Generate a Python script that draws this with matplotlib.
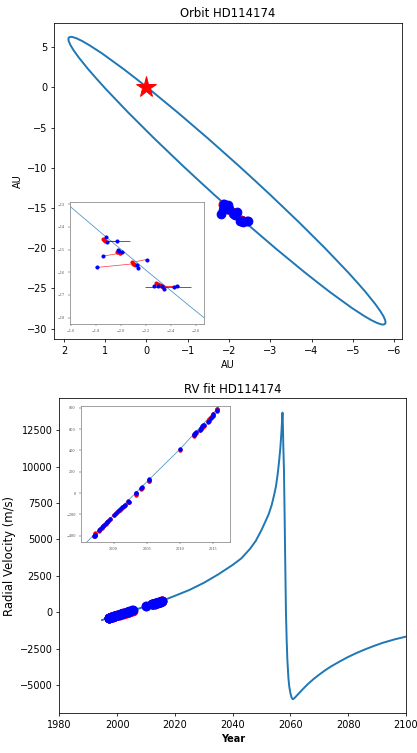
import math
import matplotlib
matplotlib.use('Agg')
import matplotlib.pyplot as plt
from matplotlib.patches import Ellipse
from matplotlib.transforms import Affine2D

# ---------------- data ----------------
# fitted orbit: ellipse centre, half-extent in x (horizontal chord), half-extent in y,
# and shear of the chord-midpoint line (dx/dy)
orbit_x0 = -1.95
orbit_y0 = -11.6
orbit_half_w = 0.68
orbit_half_h = 17.9
orbit_shear = 0.2112

star_x = [0.0]
star_y = [0.0]

# astrometric epochs: observed (blue) and model (red) positions
obs_x = [-1.878, -1.889, -1.967, -1.975, -1.982, -2.010, -1.854, -2.205, -1.804,
         -2.130, -2.138, -2.267, -2.299, -2.331, -2.347, -2.427, -2.454]
obs_y = [-14.47, -14.65, -14.64, -15.03, -15.07, -15.10, -15.29, -15.44, -15.79,
         -15.70, -15.83, -16.60, -16.61, -16.60, -16.73, -16.63, -16.60]
obs_xerr_lo = [0.01, 0.01, 0.102, 0.01, 0.01, 0.01, 0.01, 0.01, 0.01,
               0.01, 0.01, 0.01, 0.01, 0.01, 0.01, 0.134, 0.01]
obs_xerr_hi = [0.01, 0.01, 0.081, 0.01, 0.01, 0.01, 0.01, 0.01, 0.01,
               0.01, 0.01, 0.01, 0.01, 0.01, 0.01, 0.235, 0.01]
mod_x = [-1.853, -1.860, -1.870, -1.965, -1.975, -1.990, -1.988, -2.085, -2.100,
         -2.108, -2.115, -2.280, -2.295, -2.310, -2.335, -2.325, -2.340]
mod_y = [-14.55, -14.59, -14.63, -15.09, -15.12, -15.16, -15.17, -15.57, -15.63,
         -15.66, -15.70, -16.49, -16.53, -16.57, -16.65, -16.62, -16.66]

# fitted radial-velocity curve
rv_fit_year = [1994.8, 2000.0, 2005.0, 2010.0, 2015.5, 2020.0, 2025.0, 2030.0,
               2035.0, 2040.0, 2043.0, 2046.0, 2048.0, 2050.0, 2051.5, 2052.5,
               2053.5, 2054.3, 2055.0, 2055.6, 2056.1, 2056.5, 2056.85, 2057.1,
               2057.25, 2057.4, 2057.55, 2057.75, 2058.0, 2058.2, 2058.45, 2058.7,
               2058.95, 2059.3, 2059.6, 2060.0, 2060.4, 2060.8, 2061.2, 2061.8,
               2062.5, 2063.3, 2064.5, 2066.0, 2068.0, 2070.0, 2072.0, 2074.0,
               2077.0, 2080.0, 2083.0, 2086.0, 2089.0, 2092.0, 2096.0, 2100.0]
rv_fit_val = [-530, -205, 105, 410, 780, 1130, 1530, 2020,
              2600, 3250, 3700, 4350, 4900, 5650, 6300, 6750,
              7350, 8000, 8650, 9500, 10400, 11250, 12250, 13150,
              13700, 12800, 11300, 9900, 6500, 3500, 0, -1900,
              -3300, -4500, -5100, -5550, -5850, -5963, -5920, -5800,
              -5650, -5480, -5230, -4930, -4580, -4270, -3980, -3720,
              -3380, -3060, -2780, -2530, -2300, -2090, -1860, -1668]

# radial-velocity measurements (blue) and model values at those epochs (red)
rv_year = [1997.05, 1997.10, 1997.15, 1997.20, 1997.85, 1998.00, 1998.20, 1998.40,
           1998.60, 1998.80, 1999.00, 1999.20, 1999.45, 2000.00, 2000.30, 2000.60,
           2000.90, 2001.20, 2001.50, 2001.70, 2002.20, 2002.25, 2003.30, 2003.35,
           2004.20, 2004.25, 2005.30, 2005.35, 2010.10, 2012.10, 2012.20, 2012.30,
           2012.40, 2013.10, 2013.20, 2013.30, 2013.50, 2013.60, 2014.20, 2014.40,
           2014.70, 2015.00, 2015.10, 2015.60, 2015.65]
rv_obs = [-405, -395, -390, -400, -345, -335, -320, -305,
          -295, -280, -270, -258, -245, -205, -185, -170,
          -150, -135, -120, -110, -72, -80, -2, 5,
          50, 58, 125, 135, 413, 540, 555, 565,
          570, 595, 610, 625, 635, 640, 665, 680,
          700, 720, 740, 765, 780]
rv_mod = [-398, -392, -378, -388, -352, -338, -325, -312,
          -300, -287, -275, -262, -247, -210, -190, -172,
          -156, -138, -124, -112, -80, -88, -14, -8,
          40, 44, 110, 114, 405, 538, 545, 552,
          560, 592, 600, 610, 625, 632, 678, 690,
          710, 728, 745, 785, 792]


def orbit_patch(ax, **kw):
    e = Ellipse((0, 0), 2 * orbit_half_w, 2 * orbit_half_h, fill=False, **kw)
    tr = (Affine2D().skew(math.atan(orbit_shear), 0)
          .translate(orbit_x0, orbit_y0) + ax.transData)
    e.set_transform(tr)
    ax.add_patch(e)


# ---------------- figure ----------------
fig = plt.figure(figsize=(417 / 70, 753 / 70), dpi=70)

# ---- orbit panel ----
ax1 = fig.add_axes([0.1295, 0.5498, 0.8345, 0.4197])
orbit_patch(ax1, ec='C0', lw=2, zorder=2)
ax1.plot(mod_x, mod_y, 'o', color='red', ms=9, zorder=3)
ax1.plot(obs_x, obs_y, 'o', color='blue', ms=9, zorder=4)
ax1.plot(star_x, star_y, '*', color='red', ms=22, zorder=5)
ax1.set_xlim(2.24, -6.19)
ax1.set_ylim(-31.3, 8.03)
ax1.set_xticks([2, 1, 0, -1, -2, -3, -4, -5, -6])
ax1.set_yticks([5, 0, -5, -10, -15, -20, -25, -30])
ax1.set_title('Orbit HD114174')
ax1.set_xlabel('AU')
ax1.set_ylabel('AU')

# inset orbit zoom
ins1 = fig.add_axes([0.1679, 0.5697, 0.3213, 0.1620])
orbit_patch(ins1, ec='C0', lw=0.8, alpha=0.8, zorder=2)
for xo, yo, xm, ym in zip(obs_x, obs_y, mod_x, mod_y):
    ins1.plot([xo, xm], [yo, ym], '-', color='red', lw=0.7, alpha=0.8, zorder=3)
ins1.errorbar(obs_x, obs_y, xerr=[obs_xerr_lo, obs_xerr_hi], fmt='none',
              ecolor='blue', elinewidth=0.7, zorder=3)
ins1.plot(mod_x, mod_y, 'o', color='red', ms=3.2, zorder=4)
ins1.plot(obs_x, obs_y, 'o', color='blue', ms=3.2, zorder=5)
ins1.set_xlim(-1.59, -2.667)
ins1.set_ylim(-18.28, -12.91)
ins1.set_xticks([-1.6, -1.8, -2.0, -2.2, -2.4, -2.6])
ins1.set_yticks([-13, -14, -15, -16, -17, -18])

# ---- RV panel ----
ax2 = fig.add_axes([0.1422, 0.0527, 0.8314, 0.4183])
ax2.plot(rv_fit_year, rv_fit_val, '-', color='C0', lw=2, zorder=2)
ax2.plot(rv_year, rv_mod, 'o', color='red', ms=9, zorder=3)
ax2.plot(rv_year, rv_obs, 'o', color='blue', ms=9, zorder=4)
ax2.set_xlim(1980, 2100)
ax2.set_ylim(-6930, 14680)
ax2.set_xticks([1980, 2000, 2020, 2040, 2060, 2080, 2100])
ax2.set_yticks([-5000, -2500, 0, 2500, 5000, 7500, 10000, 12500])
ax2.set_title('RV fit HD114174')
ax2.set_xlabel('Year', fontweight='bold')
ax2.set_ylabel('Radial Velocity (m/s)', fontsize=12)

# inset RV zoom
ins2 = fig.add_axes([0.1942, 0.2806, 0.3574, 0.1802])
ins2.plot(rv_fit_year, rv_fit_val, '-', color='C0', lw=0.8, alpha=0.8, zorder=2)
ins2.plot(rv_year, rv_mod, 'o', color='red', ms=3.5, zorder=3)
ins2.plot(rv_year, rv_obs, 'o', color='blue', ms=3.5, zorder=4)
ins2.set_xlim(1995.05, 2017.6)
ins2.set_ylim(-456, 816)
ins2.set_xticks([2000, 2005, 2010, 2015])
ins2.set_yticks([-400, -200, 0, 200, 400, 600, 800])

for ins in (ins1, ins2):
    ins.tick_params(labelsize=3.5, length=2, width=0.5, colors='#444444')
    for lab in ins.get_xticklabels() + ins.get_yticklabels():
        lab.set_family('DejaVu Serif')
    for sp in ins.spines.values():
        sp.set_color('#888888')
        sp.set_linewidth(0.8)

fig.savefig('out.png', dpi=70)
